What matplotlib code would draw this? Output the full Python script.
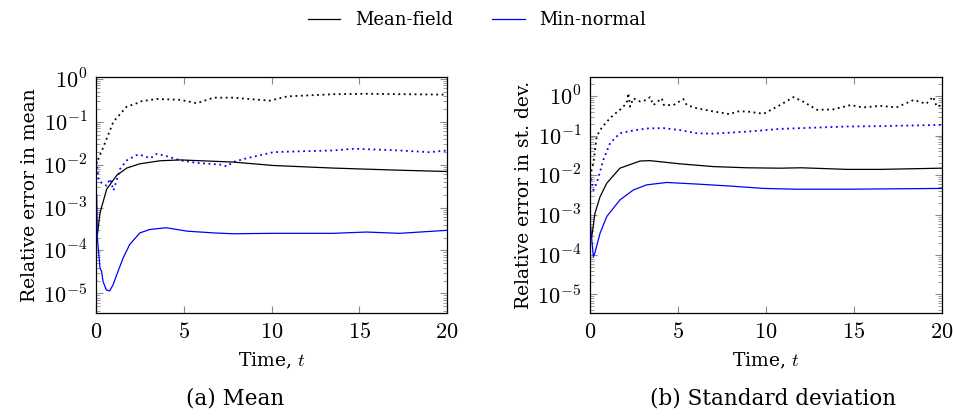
import numpy as np
import matplotlib
matplotlib.use('Agg')
import matplotlib.pyplot as plt
from matplotlib.ticker import FixedLocator, LogLocator, FuncFormatter, NullFormatter
from matplotlib.lines import Line2D

plt.rcParams['mathtext.fontset'] = 'cm'
plt.rcParams['font.family'] = ['DejaVu Serif']

# (a) mean -- log10 of relative error
mf_mean_t = [0.08, 0.23, 0.61, 1.18, 1.75, 2.5, 3.65, 4.8, 7.8, 10.1, 13.5, 17.3, 20]
mf_mean_solid = [-3.63, -3.12, -2.57, -2.25, -2.08, -1.98, -1.91, -1.89, -1.94, -2.02, -2.08, -2.13, -2.16]
mf_mean_dot_t = [0.0, 0.42, 0.99, 1.75, 2.33, 2.5, 3.46, 4.8, 5.74, 6.7, 7.8, 9.9, 10.9, 13.5, 15.4, 20]
mf_mean_dot = [-2.0, -1.59, -1.0, -0.65, -0.57, -0.53, -0.47, -0.49, -0.57, -0.44, -0.44, -0.51, -0.41, -0.36, -0.35, -0.37]
mn_mean_t = [0.0, 0.03, 0.08, 0.23, 0.32, 0.4, 0.59, 0.78, 0.97, 1.25, 1.54, 1.92, 2.5, 3.07, 4.0,
             5.2, 6.7, 7.8, 10.1, 13.5, 15.4, 17.3, 20]
mn_mean_solid = [-6.0, -2.7, -3.71, -4.41, -4.49, -4.72, -4.92, -4.94, -4.80, -4.49, -4.18, -3.86, -3.59,
                 -3.51, -3.47, -3.55, -3.59, -3.61, -3.60, -3.60, -3.57, -3.60, -3.53]
mn_mean_dot_t = [0.0, 0.15, 0.4, 0.6, 0.8, 1.0, 1.37, 1.75, 2.3, 2.5, 3.1, 3.46, 4.0, 4.8, 5.74, 7.1,
                 7.45, 7.8, 8.6, 10.1, 11.6, 13.5, 14.7, 17.3, 19.0, 20]
mn_mean_dot = [-1.8, -2.37, -2.45, -2.49, -2.33, -2.6, -2.1, -1.9, -1.78, -1.77, -1.85, -1.75, -1.8,
               -1.9, -1.96, -2.0, -2.04, -1.94, -1.85, -1.71, -1.69, -1.67, -1.63, -1.67, -1.71, -1.67]

# (b) standard deviation
mf_sd_t = [0.1, 0.28, 0.57, 0.95, 1.7, 2.84, 3.4, 5.1, 7.0, 8.9, 10.8, 12.0, 14.6, 16.5, 20]
mf_sd_solid = [-3.55, -2.96, -2.54, -2.2, -1.82, -1.64, -1.63, -1.71, -1.78, -1.81, -1.82, -1.81, -1.85, -1.85, -1.82]
mf_sd_dot_t = [0.0, 0.19, 0.38, 0.57, 0.95, 1.33, 1.7, 2.09, 2.18, 2.28, 2.46, 2.84, 3.22, 3.41, 3.6,
               4.08, 4.2, 4.74, 5.3, 5.5, 6.07, 7.0, 7.96, 8.34, 8.9, 9.86, 10.8, 11.56, 12.1, 12.9,
               13.8, 14.8, 15.5, 16.5, 17.4, 18.4, 19.1, 19.5, 19.7, 20]
mf_sd_dot = [-2.03, -1.7, -1.03, -0.86, -0.65, -0.48, -0.35, -0.18, 0.07, -0.27, -0.06, -0.14, -0.1,
             -0.03, -0.23, -0.06, -0.23, -0.23, -0.08, -0.23, -0.31, -0.39, -0.46, -0.39, -0.39, -0.45,
             -0.23, -0.03, -0.14, -0.35, -0.34, -0.23, -0.29, -0.25, -0.29, -0.1, -0.2, -0.02, -0.27, -0.23]
mn_sd_t = [0.0, 0.19, 0.28, 0.57, 0.95, 1.7, 2.46, 3.22, 4.36, 6.07, 7.96, 9.86, 11.75, 14.6, 20]
mn_sd_solid = [-3.13, -4.05, -3.95, -3.46, -3.04, -2.62, -2.37, -2.24, -2.18, -2.22, -2.27, -2.33, -2.35, -2.35, -2.33]
mn_sd_dot_t = [0.0, 0.19, 0.38, 0.76, 1.14, 1.7, 2.46, 3.22, 4.17, 5.1, 6.07, 7.0, 8.9, 10.8, 12.7, 14.6, 16.5, 20]
mn_sd_dot = [-1.95, -2.37, -2.2, -1.61, -1.19, -0.94, -0.87, -0.82, -0.81, -0.86, -0.94, -0.95, -0.9,
             -0.83, -0.8, -0.77, -0.76, -0.73]

xticks = [0, 5, 10, 15, 20]
legend_labels = ['Mean-field', 'Min-normal']
ylabels = ['Relative error in mean', 'Relative error in st. dev.']
captions = ['(a) Mean', '(b) Standard deviation']

fig = plt.figure(figsize=(9.54, 4.17), dpi=100)
ax1 = fig.add_axes([96 / 954, 1 - 313 / 417, 351 / 954, 236 / 417])
ax2 = fig.add_axes([590 / 954, 1 - 313 / 417, 352 / 954, 236 / 417])


def pw(v):
    return 10.0 ** np.array(v)


ax1.plot(mf_mean_dot_t, pw(mf_mean_dot), color='black', ls=(0, (1, 2)), lw=1.3)
ax1.plot(mn_mean_dot_t, pw(mn_mean_dot), color='blue', ls=(0, (1, 2)), lw=1.3)
ax1.plot(mf_mean_t, pw(mf_mean_solid), color='black', lw=0.9)
ax1.plot(mn_mean_t, pw(mn_mean_solid), color='blue', lw=0.9)
ax1.set_ylim(3.5e-6, 1.1)

ax2.plot(mf_sd_dot_t, pw(mf_sd_dot), color='black', ls=(0, (1, 2)), lw=1.3)
ax2.plot(mn_sd_dot_t, pw(mn_sd_dot), color='blue', ls=(0, (1, 2)), lw=1.3)
ax2.plot(mf_sd_t, pw(mf_sd_solid), color='black', lw=0.9)
ax2.plot(mn_sd_t, pw(mn_sd_solid), color='blue', lw=0.9)
ax2.set_ylim(3.4e-6, 3.0)

for ax, yl in zip([ax1, ax2], ylabels):
    ax.set_yscale('log')
    ax.set_xlim(0, 20)
    ax.xaxis.set_major_locator(FixedLocator(xticks))
    ax.xaxis.set_major_formatter(FuncFormatter(lambda v, p: r'$%d$' % v))
    ax.yaxis.set_major_locator(LogLocator(base=10, numticks=20))
    ax.yaxis.set_minor_locator(LogLocator(base=10, subs=np.arange(2, 10), numticks=20))
    ax.yaxis.set_major_formatter(FuncFormatter(lambda v, p: r'$10^{%d}$' % round(np.log10(v))))
    ax.yaxis.set_minor_formatter(NullFormatter())
    ax.tick_params(which='both', direction='in', top=True, right=True, color='0.55',
                   labelsize=16, pad=6)
    ax.tick_params(which='major', length=5, width=0.8)
    ax.tick_params(which='minor', length=3, width=0.6)
    for s in ax.spines.values():
        s.set_linewidth(0.9)
    ax.set_xlabel(r'Time, $t$', fontsize=13.5, labelpad=5)
    ax.set_ylabel(yl, fontsize=13.5, labelpad=3)

fig.text(235 / 954, 1 - 398 / 417, captions[0], fontsize=15.5, ha='center', va='center')
fig.text(773 / 954, 1 - 398 / 417, captions[1], fontsize=15.5, ha='center', va='center')

handles = [Line2D([], [], color='black', lw=0.9), Line2D([], [], color='blue', lw=0.9)]
fig.legend(handles, legend_labels, loc='center', bbox_to_anchor=(0.5, 1 - 20 / 417), ncol=2,
           frameon=False, fontsize=13, handlelength=1.8, columnspacing=2.2)

fig.savefig('out.png', dpi=100)
